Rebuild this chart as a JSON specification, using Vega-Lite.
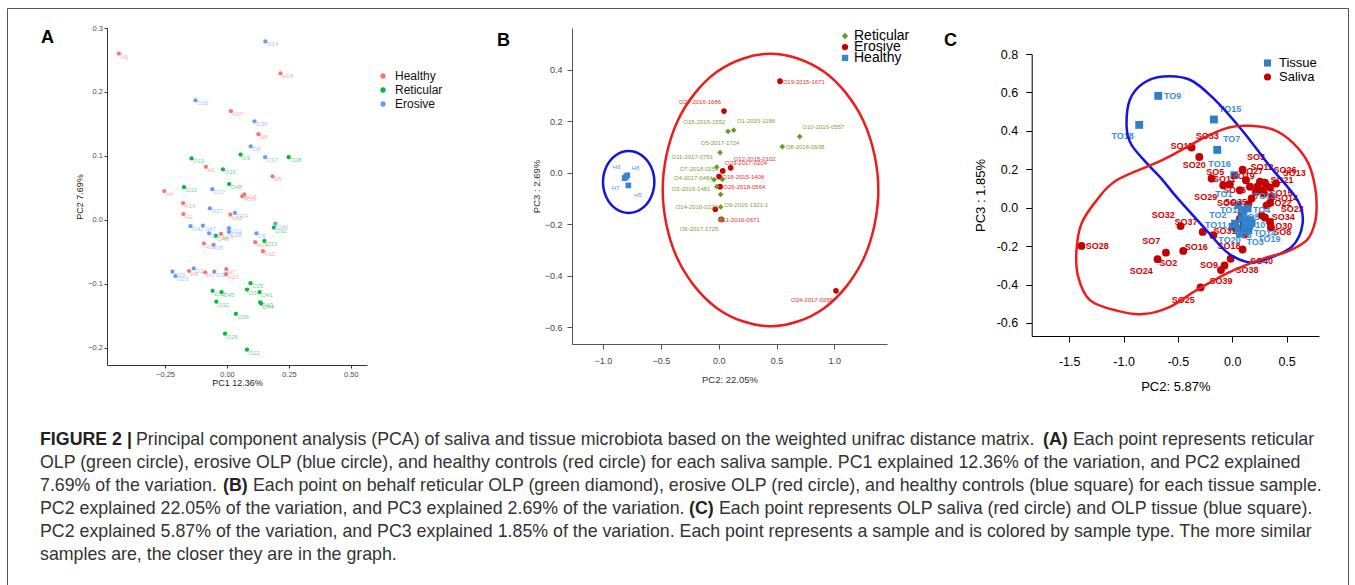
{
  "$schema": "https://vega.github.io/schema/vega-lite/v6.json",
  "width": 1341,
  "height": 577,
  "autosize": {"type": "none"},
  "padding": {"left": 7, "top": 8, "right": 7, "bottom": 0},
  "config": {
    "font": "Liberation Sans",
    "view": {"stroke": "#555555", "strokeWidth": 1},
    "axis": {"grid": false}
  },
  "datasets": {
    "salivaA": [
      {"pc1": -0.436, "pc2": 0.260, "group": "Healthy", "id": "H6"},
      {"pc1": 0.216, "pc2": 0.229, "group": "Healthy", "id": "H18"},
      {"pc1": 0.016, "pc2": 0.170, "group": "Healthy", "id": "H17"},
      {"pc1": 0.127, "pc2": 0.134, "group": "Healthy", "id": "H8"},
      {"pc1": -0.085, "pc2": 0.083, "group": "Healthy", "id": "H1"},
      {"pc1": 0.184, "pc2": 0.068, "group": "Healthy", "id": "H5"},
      {"pc1": -0.253, "pc2": 0.045, "group": "Healthy", "id": "H4"},
      {"pc1": 0.070, "pc2": 0.040, "group": "Healthy", "id": "H15"},
      {"pc1": 0.062, "pc2": 0.037, "group": "Healthy", "id": "H13"},
      {"pc1": -0.177, "pc2": 0.026, "group": "Healthy", "id": "H14"},
      {"pc1": -0.176, "pc2": 0.009, "group": "Healthy", "id": "H2"},
      {"pc1": 0.014, "pc2": 0.008, "group": "Healthy", "id": "H11"},
      {"pc1": -0.024, "pc2": -0.022, "group": "Healthy", "id": "H20"},
      {"pc1": 0.114, "pc2": -0.035, "group": "Healthy", "id": "H19"},
      {"pc1": 0.145, "pc2": -0.049, "group": "Healthy", "id": "H12"},
      {"pc1": -0.093, "pc2": -0.037, "group": "Healthy", "id": "H16"},
      {"pc1": -0.153, "pc2": -0.080, "group": "Healthy", "id": "H9"},
      {"pc1": -0.088, "pc2": -0.082, "group": "Healthy", "id": "H3"},
      {"pc1": -0.003, "pc2": -0.077, "group": "Healthy", "id": "H7"},
      {"pc1": -0.004, "pc2": -0.085, "group": "Healthy", "id": "H10"},
      {"pc1": 0.155, "pc2": 0.279, "group": "Erosive", "id": "O14"},
      {"pc1": -0.127, "pc2": 0.187, "group": "Erosive", "id": "O16"},
      {"pc1": 0.111, "pc2": 0.154, "group": "Erosive", "id": "O35"},
      {"pc1": 0.096, "pc2": 0.115, "group": "Erosive", "id": "O9"},
      {"pc1": 0.154, "pc2": 0.098, "group": "Erosive", "id": "O37"},
      {"pc1": -0.059, "pc2": 0.048, "group": "Erosive", "id": "O17"},
      {"pc1": -0.069, "pc2": 0.018, "group": "Erosive", "id": "O27"},
      {"pc1": 0.032, "pc2": 0.011, "group": "Erosive", "id": "O24"},
      {"pc1": -0.147, "pc2": -0.010, "group": "Erosive", "id": "O42"},
      {"pc1": -0.097, "pc2": -0.009, "group": "Erosive", "id": "O47"},
      {"pc1": -0.072, "pc2": -0.021, "group": "Erosive", "id": "O4"},
      {"pc1": 0.008, "pc2": -0.013, "group": "Erosive", "id": "O12"},
      {"pc1": 0.008, "pc2": -0.019, "group": "Erosive", "id": "O38"},
      {"pc1": 0.195, "pc2": -0.006, "group": "Erosive", "id": "O40"},
      {"pc1": 0.119, "pc2": -0.021, "group": "Erosive", "id": "O6"},
      {"pc1": -0.054, "pc2": -0.039, "group": "Erosive", "id": "O8"},
      {"pc1": -0.220, "pc2": -0.081, "group": "Erosive", "id": "O29"},
      {"pc1": -0.208, "pc2": -0.088, "group": "Erosive", "id": "O23"},
      {"pc1": -0.134, "pc2": -0.076, "group": "Erosive", "id": "O2"},
      {"pc1": -0.051, "pc2": -0.081, "group": "Erosive", "id": "O39"},
      {"pc1": 0.055, "pc2": 0.102, "group": "Reticular", "id": "O3"},
      {"pc1": 0.249, "pc2": 0.098, "group": "Reticular", "id": "O28"},
      {"pc1": -0.143, "pc2": 0.096, "group": "Reticular", "id": "O19"},
      {"pc1": -0.016, "pc2": 0.079, "group": "Reticular", "id": "O10"},
      {"pc1": 0.009, "pc2": 0.056, "group": "Reticular", "id": "O48"},
      {"pc1": -0.173, "pc2": 0.051, "group": "Reticular", "id": "O13"},
      {"pc1": -0.045, "pc2": -0.025, "group": "Reticular", "id": "O46"},
      {"pc1": 0.189, "pc2": -0.012, "group": "Reticular", "id": "O31"},
      {"pc1": 0.151, "pc2": -0.033, "group": "Reticular", "id": "O33"},
      {"pc1": 0.095, "pc2": -0.099, "group": "Reticular", "id": "O25"},
      {"pc1": 0.081, "pc2": -0.109, "group": "Reticular", "id": "O34"},
      {"pc1": 0.132, "pc2": -0.113, "group": "Reticular", "id": "O41"},
      {"pc1": -0.058, "pc2": -0.111, "group": "Reticular", "id": "O30"},
      {"pc1": -0.022, "pc2": -0.113, "group": "Reticular", "id": "O45"},
      {"pc1": -0.043, "pc2": -0.128, "group": "Reticular", "id": "O32"},
      {"pc1": 0.134, "pc2": -0.129, "group": "Reticular", "id": "O43"},
      {"pc1": 0.138, "pc2": -0.131, "group": "Reticular", "id": "O44"},
      {"pc1": 0.036, "pc2": -0.147, "group": "Reticular", "id": "O36"},
      {"pc1": -0.008, "pc2": -0.178, "group": "Reticular", "id": "O26"},
      {"pc1": 0.081, "pc2": -0.203, "group": "Reticular", "id": "O22"}
    ],
    "tissueB": [
      {"pc2": 0.530, "pc3": 0.355, "group": "Erosive"},
      {"pc2": 0.046, "pc3": 0.239, "group": "Erosive"},
      {"pc2": 0.104, "pc3": 0.019, "group": "Erosive"},
      {"pc2": 0.035, "pc3": 0.007, "group": "Erosive"},
      {"pc2": 0.003, "pc3": -0.015, "group": "Erosive"},
      {"pc2": 0.012, "pc3": -0.054, "group": "Erosive"},
      {"pc2": -0.029, "pc3": -0.142, "group": "Erosive"},
      {"pc2": 0.022, "pc3": -0.181, "group": "Erosive"},
      {"pc2": 1.014, "pc3": -0.458, "group": "Erosive"},
      {"pc2": 0.081, "pc3": 0.160, "group": "Reticular"},
      {"pc2": 0.130, "pc3": 0.165, "group": "Reticular"},
      {"pc2": 0.700, "pc3": 0.140, "group": "Reticular"},
      {"pc2": 0.550, "pc3": 0.101, "group": "Reticular"},
      {"pc2": 0.012, "pc3": 0.078, "group": "Reticular"},
      {"pc2": -0.017, "pc3": 0.022, "group": "Reticular"},
      {"pc2": -0.040, "pc3": -0.027, "group": "Reticular"},
      {"pc2": 0.032, "pc3": -0.026, "group": "Reticular"},
      {"pc2": -0.017, "pc3": -0.054, "group": "Reticular"},
      {"pc2": 0.017, "pc3": -0.084, "group": "Reticular"},
      {"pc2": 0.017, "pc3": -0.133, "group": "Reticular"},
      {"pc2": 0.020, "pc3": -0.181, "group": "Reticular"},
      {"pc2": -0.801, "pc3": -0.016, "group": "Healthy"},
      {"pc2": -0.790, "pc3": -0.010, "group": "Healthy"},
      {"pc2": -0.813, "pc3": -0.021, "group": "Healthy"},
      {"pc2": -0.781, "pc3": -0.049, "group": "Healthy"}
    ],
    "legendB": [
      {"pc2": 1.092, "pc3": 0.530, "group": "Reticular"},
      {"pc2": 1.092, "pc3": 0.487, "group": "Erosive"},
      {"pc2": 1.092, "pc3": 0.445, "group": "Healthy"}
    ],
    "labelsB": [
      {"pc2": 0.735, "pc3": 0.353, "group": "Erosive", "id": "O19-2015-1671"},
      {"pc2": -0.161, "pc3": 0.274, "group": "Erosive", "id": "O27-2016-1686"},
      {"pc2": 0.311, "pc3": 0.054, "group": "Erosive", "id": "O12-2015-0102"},
      {"pc2": 0.236, "pc3": 0.039, "group": "Erosive", "id": "O23-2017-0204"},
      {"pc2": 0.213, "pc3": -0.018, "group": "Erosive", "id": "O18-2015-1406"},
      {"pc2": 0.222, "pc3": -0.054, "group": "Erosive", "id": "O26-2018-0564"},
      {"pc2": 0.173, "pc3": -0.182, "group": "Erosive", "id": "O31-2016-0671"},
      {"pc2": 0.807, "pc3": -0.495, "group": "Erosive", "id": "O24-2017-0256"},
      {"pc2": -0.124, "pc3": 0.195, "group": "Reticular", "id": "O15-2015-1552"},
      {"pc2": 0.323, "pc3": 0.202, "group": "Reticular", "id": "O1-2015-1186"},
      {"pc2": 0.905, "pc3": 0.176, "group": "Reticular", "id": "O10-2016-0557"},
      {"pc2": 0.746, "pc3": 0.100, "group": "Reticular", "id": "O8-2016-0938"},
      {"pc2": 0.012, "pc3": 0.115, "group": "Reticular", "id": "O5-2017-1724"},
      {"pc2": -0.228, "pc3": 0.061, "group": "Reticular", "id": "O11-2017-0751"},
      {"pc2": -0.170, "pc3": 0.013, "group": "Reticular", "id": "O7-2018-0259"},
      {"pc2": -0.219, "pc3": -0.022, "group": "Reticular", "id": "O4-2017-0484"},
      {"pc2": -0.239, "pc3": -0.065, "group": "Reticular", "id": "O3-2016-1481"},
      {"pc2": 0.239, "pc3": -0.126, "group": "Reticular", "id": "O9-2015-1321-1"},
      {"pc2": -0.190, "pc3": -0.133, "group": "Reticular", "id": "O14-2016-0227"},
      {"pc2": -0.170, "pc3": -0.219, "group": "Reticular", "id": "O6-2017-1725"},
      {"pc2": -0.882, "pc3": 0.023, "group": "Healthy", "id": "H6"},
      {"pc2": -0.720, "pc3": 0.017, "group": "Healthy", "id": "H8"},
      {"pc2": -0.893, "pc3": -0.058, "group": "Healthy", "id": "H7"},
      {"pc2": -0.697, "pc3": -0.088, "group": "Healthy", "id": "H5"}
    ],
    "ringsB": [
      {"ring": "Healthy", "i": 1, "pc2": -0.556, "pc3": -0.036},
      {"ring": "Healthy", "i": 2, "pc2": -0.586, "pc3": 0.024},
      {"ring": "Healthy", "i": 3, "pc2": -0.667, "pc3": 0.068},
      {"ring": "Healthy", "i": 4, "pc2": -0.778, "pc3": 0.084},
      {"ring": "Healthy", "i": 5, "pc2": -0.889, "pc3": 0.068},
      {"ring": "Healthy", "i": 6, "pc2": -0.970, "pc3": 0.024},
      {"ring": "Healthy", "i": 7, "pc2": -1.000, "pc3": -0.036},
      {"ring": "Healthy", "i": 8, "pc2": -0.970, "pc3": -0.096},
      {"ring": "Healthy", "i": 9, "pc2": -0.889, "pc3": -0.140},
      {"ring": "Healthy", "i": 10, "pc2": -0.778, "pc3": -0.156},
      {"ring": "Healthy", "i": 11, "pc2": -0.667, "pc3": -0.140},
      {"ring": "Healthy", "i": 12, "pc2": -0.586, "pc3": -0.096},
      {"ring": "Erosive", "i": 1, "pc2": 1.380, "pc3": -0.067},
      {"ring": "Erosive", "i": 2, "pc2": 1.255, "pc3": 0.197},
      {"ring": "Erosive", "i": 3, "pc2": 0.914, "pc3": 0.390},
      {"ring": "Erosive", "i": 4, "pc2": 0.448, "pc3": 0.461},
      {"ring": "Erosive", "i": 5, "pc2": -0.018, "pc3": 0.390},
      {"ring": "Erosive", "i": 6, "pc2": -0.359, "pc3": 0.197},
      {"ring": "Erosive", "i": 7, "pc2": -0.484, "pc3": -0.067},
      {"ring": "Erosive", "i": 8, "pc2": -0.359, "pc3": -0.331},
      {"ring": "Erosive", "i": 9, "pc2": -0.018, "pc3": -0.524},
      {"ring": "Erosive", "i": 10, "pc2": 0.448, "pc3": -0.595},
      {"ring": "Erosive", "i": 11, "pc2": 0.914, "pc3": -0.524},
      {"ring": "Erosive", "i": 12, "pc2": 1.255, "pc3": -0.331}
    ],
    "olpC": [
      {"pc2": -0.374, "pc3": 0.313, "type": "Saliva"},
      {"pc2": -0.303, "pc3": 0.264, "type": "Saliva"},
      {"pc2": 0.095, "pc3": 0.198, "type": "Saliva"},
      {"pc2": -0.190, "pc3": 0.152, "type": "Saliva"},
      {"pc2": 0.126, "pc3": 0.143, "type": "Saliva"},
      {"pc2": -0.083, "pc3": 0.117, "type": "Saliva"},
      {"pc2": -0.022, "pc3": 0.122, "type": "Saliva"},
      {"pc2": 0.070, "pc3": 0.091, "type": "Saliva"},
      {"pc2": 0.163, "pc3": 0.109, "type": "Saliva"},
      {"pc2": 0.255, "pc3": 0.135, "type": "Saliva"},
      {"pc2": 0.300, "pc3": 0.130, "type": "Saliva"},
      {"pc2": 0.230, "pc3": 0.109, "type": "Saliva"},
      {"pc2": 0.270, "pc3": 0.091, "type": "Saliva"},
      {"pc2": 0.316, "pc3": 0.112, "type": "Saliva"},
      {"pc2": 0.347, "pc3": 0.105, "type": "Saliva"},
      {"pc2": 0.402, "pc3": 0.126, "type": "Saliva"},
      {"pc2": 0.218, "pc3": 0.082, "type": "Saliva"},
      {"pc2": 0.292, "pc3": 0.074, "type": "Saliva"},
      {"pc2": 0.362, "pc3": 0.056, "type": "Saliva"},
      {"pc2": 0.347, "pc3": 0.025, "type": "Saliva"},
      {"pc2": 0.316, "pc3": 0.012, "type": "Saliva"},
      {"pc2": 0.178, "pc3": 0.048, "type": "Saliva"},
      {"pc2": 0.148, "pc3": 0.018, "type": "Saliva"},
      {"pc2": 0.270, "pc3": -0.040, "type": "Saliva"},
      {"pc2": 0.300, "pc3": -0.051, "type": "Saliva"},
      {"pc2": 0.347, "pc3": -0.074, "type": "Saliva"},
      {"pc2": 0.355, "pc3": -0.103, "type": "Saliva"},
      {"pc2": 0.086, "pc3": -0.022, "type": "Saliva"},
      {"pc2": 0.070, "pc3": -0.057, "type": "Saliva"},
      {"pc2": 0.107, "pc3": -0.083, "type": "Saliva"},
      {"pc2": 0.077, "pc3": -0.109, "type": "Saliva"},
      {"pc2": 0.115, "pc3": -0.140, "type": "Saliva"},
      {"pc2": 0.095, "pc3": -0.218, "type": "Saliva"},
      {"pc2": -0.174, "pc3": -0.143, "type": "Saliva"},
      {"pc2": -0.272, "pc3": -0.126, "type": "Saliva"},
      {"pc2": -0.475, "pc3": -0.096, "type": "Saliva"},
      {"pc2": -1.387, "pc3": -0.199, "type": "Saliva"},
      {"pc2": -0.687, "pc3": -0.268, "type": "Saliva"},
      {"pc2": -0.610, "pc3": -0.234, "type": "Saliva"},
      {"pc2": -0.451, "pc3": -0.225, "type": "Saliva"},
      {"pc2": -0.104, "pc3": -0.325, "type": "Saliva"},
      {"pc2": -0.071, "pc3": -0.301, "type": "Saliva"},
      {"pc2": -0.015, "pc3": -0.266, "type": "Saliva"},
      {"pc2": -0.291, "pc3": -0.415, "type": "Saliva"},
      {"pc2": -0.681, "pc3": 0.582, "type": "Tissue"},
      {"pc2": -0.856, "pc3": 0.431, "type": "Tissue"},
      {"pc2": -0.169, "pc3": 0.459, "type": "Tissue"},
      {"pc2": -0.138, "pc3": 0.301, "type": "Tissue"},
      {"pc2": 0.019, "pc3": 0.169, "type": "Tissue"},
      {"pc2": 0.056, "pc3": 0.013, "type": "Tissue"},
      {"pc2": 0.141, "pc3": -0.004, "type": "Tissue"},
      {"pc2": 0.101, "pc3": -0.013, "type": "Tissue"},
      {"pc2": 0.086, "pc3": -0.057, "type": "Tissue"},
      {"pc2": 0.163, "pc3": -0.065, "type": "Tissue"},
      {"pc2": 0.132, "pc3": -0.083, "type": "Tissue"},
      {"pc2": 0.117, "pc3": -0.100, "type": "Tissue"},
      {"pc2": 0.003, "pc3": -0.100, "type": "Tissue"},
      {"pc2": 0.040, "pc3": -0.108, "type": "Tissue"},
      {"pc2": 0.148, "pc3": -0.117, "type": "Tissue"},
      {"pc2": 0.178, "pc3": -0.079, "type": "Tissue"},
      {"pc2": 0.070, "pc3": -0.135, "type": "Tissue"},
      {"pc2": 0.026, "pc3": -0.083, "type": "Tissue"},
      {"pc2": 0.155, "pc3": -0.095, "type": "Tissue"},
      {"pc2": 0.120, "pc3": -0.060, "type": "Tissue"}
    ],
    "labelsC": [
      {"pc2": -0.230, "pc3": 0.371, "type": "Saliva", "id": "SO33"},
      {"pc2": -0.463, "pc3": 0.319, "type": "Saliva", "id": "SO17"},
      {"pc2": 0.218, "pc3": 0.263, "type": "Saliva", "id": "SO3"},
      {"pc2": -0.350, "pc3": 0.220, "type": "Saliva", "id": "SO20"},
      {"pc2": 0.273, "pc3": 0.211, "type": "Saliva", "id": "SO12"},
      {"pc2": 0.485, "pc3": 0.198, "type": "Saliva", "id": "SO26"},
      {"pc2": 0.571, "pc3": 0.180, "type": "Saliva", "id": "SO13"},
      {"pc2": -0.156, "pc3": 0.184, "type": "Saliva", "id": "SO5"},
      {"pc2": 0.180, "pc3": 0.189, "type": "Saliva", "id": "SO27"},
      {"pc2": 0.100, "pc3": 0.166, "type": "Saliva", "id": "SO19"},
      {"pc2": -0.074, "pc3": 0.149, "type": "Saliva", "id": "SO11"},
      {"pc2": 0.457, "pc3": 0.146, "type": "Saliva", "id": "SO21"},
      {"pc2": -0.245, "pc3": 0.055, "type": "Saliva", "id": "SO29"},
      {"pc2": 0.448, "pc3": 0.076, "type": "Saliva", "id": "SO15"},
      {"pc2": 0.500, "pc3": 0.050, "type": "Saliva", "id": "SO14"},
      {"pc2": -0.057, "pc3": 0.023, "type": "Saliva", "id": "SO6"},
      {"pc2": 0.020, "pc3": 0.090, "type": "Saliva", "id": "SO36"},
      {"pc2": 0.030, "pc3": 0.030, "type": "Saliva", "id": "SO35"},
      {"pc2": 0.440, "pc3": 0.024, "type": "Saliva", "id": "SO22"},
      {"pc2": 0.552, "pc3": -0.009, "type": "Saliva", "id": "SO23"},
      {"pc2": 0.469, "pc3": -0.048, "type": "Saliva", "id": "SO34"},
      {"pc2": -0.635, "pc3": -0.040, "type": "Saliva", "id": "SO32"},
      {"pc2": -0.426, "pc3": -0.074, "type": "Saliva", "id": "SO37"},
      {"pc2": 0.445, "pc3": -0.095, "type": "Saliva", "id": "SO30"},
      {"pc2": 0.460, "pc3": -0.126, "type": "Saliva", "id": "SO8"},
      {"pc2": -0.067, "pc3": -0.123, "type": "Saliva", "id": "SO31"},
      {"pc2": -0.745, "pc3": -0.173, "type": "Saliva", "id": "SO7"},
      {"pc2": -1.242, "pc3": -0.199, "type": "Saliva", "id": "SO28"},
      {"pc2": -0.331, "pc3": -0.204, "type": "Saliva", "id": "SO16"},
      {"pc2": -0.031, "pc3": -0.199, "type": "Saliva", "id": "SO18"},
      {"pc2": -0.589, "pc3": -0.287, "type": "Saliva", "id": "SO2"},
      {"pc2": -0.215, "pc3": -0.299, "type": "Saliva", "id": "SO9"},
      {"pc2": 0.270, "pc3": -0.277, "type": "Saliva", "id": "SO40"},
      {"pc2": 0.135, "pc3": -0.325, "type": "Saliva", "id": "SO38"},
      {"pc2": -0.837, "pc3": -0.330, "type": "Saliva", "id": "SO24"},
      {"pc2": -0.104, "pc3": -0.382, "type": "Saliva", "id": "SO39"},
      {"pc2": -0.451, "pc3": -0.478, "type": "Saliva", "id": "SO25"},
      {"pc2": -0.549, "pc3": 0.582, "type": "Tissue", "id": "TO9"},
      {"pc2": -0.021, "pc3": 0.516, "type": "Tissue", "id": "TO15"},
      {"pc2": -1.009, "pc3": 0.371, "type": "Tissue", "id": "TO18"},
      {"pc2": -0.006, "pc3": 0.359, "type": "Tissue", "id": "TO7"},
      {"pc2": -0.117, "pc3": 0.229, "type": "Tissue", "id": "TO16"},
      {"pc2": -0.077, "pc3": 0.073, "type": "Tissue", "id": "TO1"},
      {"pc2": 0.300, "pc3": 0.059, "type": "Tissue", "id": "TO13"},
      {"pc2": -0.010, "pc3": -0.014, "type": "Tissue", "id": "TO12"},
      {"pc2": 0.270, "pc3": -0.014, "type": "Tissue", "id": "TO4"},
      {"pc2": -0.132, "pc3": -0.040, "type": "Tissue", "id": "TO2"},
      {"pc2": -0.150, "pc3": -0.088, "type": "Tissue", "id": "TO11"},
      {"pc2": 0.300, "pc3": -0.131, "type": "Tissue", "id": "TO14"},
      {"pc2": -0.025, "pc3": -0.166, "type": "Tissue", "id": "TO20"},
      {"pc2": 0.340, "pc3": -0.161, "type": "Tissue", "id": "TO19"},
      {"pc2": 0.210, "pc3": -0.178, "type": "Tissue", "id": "TO3"},
      {"pc2": 0.100, "pc3": -0.140, "type": "Tissue", "id": "TO6"},
      {"pc2": 0.200, "pc3": -0.090, "type": "Tissue", "id": "TO10"},
      {"pc2": 0.170, "pc3": -0.050, "type": "Tissue", "id": "TO5"}
    ],
    "hullsC": [
      {"type": "Tissue", "i": 1, "pc2": -0.972, "pc3": 0.423},
      {"type": "Tissue", "i": 2, "pc2": -0.942, "pc3": 0.562},
      {"type": "Tissue", "i": 3, "pc2": -0.819, "pc3": 0.648},
      {"type": "Tissue", "i": 4, "pc2": -0.635, "pc3": 0.683},
      {"type": "Tissue", "i": 5, "pc2": -0.390, "pc3": 0.666},
      {"type": "Tissue", "i": 6, "pc2": -0.175, "pc3": 0.570},
      {"type": "Tissue", "i": 7, "pc2": 0.086, "pc3": 0.406},
      {"type": "Tissue", "i": 8, "pc2": 0.347, "pc3": 0.215},
      {"type": "Tissue", "i": 9, "pc2": 0.600, "pc3": 0.040},
      {"type": "Tissue", "i": 10, "pc2": 0.647, "pc3": -0.083},
      {"type": "Tissue", "i": 11, "pc2": 0.546, "pc3": -0.204},
      {"type": "Tissue", "i": 12, "pc2": 0.285, "pc3": -0.273},
      {"type": "Tissue", "i": 13, "pc2": 0.132, "pc3": -0.282},
      {"type": "Tissue", "i": 14, "pc2": -0.052, "pc3": -0.230},
      {"type": "Tissue", "i": 15, "pc2": -0.236, "pc3": -0.118},
      {"type": "Tissue", "i": 16, "pc2": -0.512, "pc3": 0.055},
      {"type": "Tissue", "i": 17, "pc2": -0.650, "pc3": 0.150},
      {"type": "Tissue", "i": 18, "pc2": -0.800, "pc3": 0.240},
      {"type": "Tissue", "i": 19, "pc2": -0.930, "pc3": 0.330},
      {"type": "Saliva", "i": 1, "pc2": -0.021, "pc3": 0.419},
      {"type": "Saliva", "i": 2, "pc2": 0.163, "pc3": 0.426},
      {"type": "Saliva", "i": 3, "pc2": 0.377, "pc3": 0.406},
      {"type": "Saliva", "i": 4, "pc2": 0.561, "pc3": 0.336},
      {"type": "Saliva", "i": 5, "pc2": 0.699, "pc3": 0.232},
      {"type": "Saliva", "i": 6, "pc2": 0.761, "pc3": 0.111},
      {"type": "Saliva", "i": 7, "pc2": 0.776, "pc3": 0.000},
      {"type": "Saliva", "i": 8, "pc2": 0.755, "pc3": -0.090},
      {"type": "Saliva", "i": 9, "pc2": 0.684, "pc3": -0.170},
      {"type": "Saliva", "i": 10, "pc2": 0.500, "pc3": -0.230},
      {"type": "Saliva", "i": 11, "pc2": 0.285, "pc3": -0.265},
      {"type": "Saliva", "i": 12, "pc2": -0.021, "pc3": -0.334},
      {"type": "Saliva", "i": 13, "pc2": -0.328, "pc3": -0.429},
      {"type": "Saliva", "i": 14, "pc2": -0.574, "pc3": -0.516},
      {"type": "Saliva", "i": 15, "pc2": -0.819, "pc3": -0.554},
      {"type": "Saliva", "i": 16, "pc2": -1.064, "pc3": -0.536},
      {"type": "Saliva", "i": 17, "pc2": -1.310, "pc3": -0.481},
      {"type": "Saliva", "i": 18, "pc2": -1.417, "pc3": -0.360},
      {"type": "Saliva", "i": 19, "pc2": -1.433, "pc3": -0.221},
      {"type": "Saliva", "i": 20, "pc2": -1.387, "pc3": -0.083},
      {"type": "Saliva", "i": 21, "pc2": -1.248, "pc3": 0.038},
      {"type": "Saliva", "i": 22, "pc2": -1.064, "pc3": 0.143},
      {"type": "Saliva", "i": 23, "pc2": -0.635, "pc3": 0.250},
      {"type": "Saliva", "i": 24, "pc2": -0.236, "pc3": 0.371}
    ],
    "caption": [
      {"line": 1, "pos": 0, "text": "FIGURE 2 |", "bold": true},
      {"line": 1, "pos": 96, "text": "Principal component analysis (PCA) of saliva and tissue microbiota based on the weighted unifrac distance matrix.", "bold": false},
      {"line": 1, "pos": 1003, "text": "(A)", "bold": true},
      {"line": 1, "pos": 1033, "text": "Each point represents reticular", "bold": false},
      {"line": 2, "pos": 0, "text": "OLP (green circle), erosive OLP (blue circle), and healthy controls (red circle) for each saliva sample. PC1 explained 12.36% of the variation, and PC2 explained", "bold": false},
      {"line": 3, "pos": 0, "text": "7.69% of the variation.", "bold": false},
      {"line": 3, "pos": 183, "text": "(B)", "bold": true},
      {"line": 3, "pos": 213, "text": "Each point on behalf reticular OLP (green diamond), erosive OLP (red circle), and healthy controls (blue square) for each tissue sample.", "bold": false},
      {"line": 4, "pos": 0, "text": "PC2 explained 22.05% of the variation, and PC3 explained 2.69% of the variation.", "bold": false},
      {"line": 4, "pos": 649, "text": "(C)", "bold": true},
      {"line": 4, "pos": 679, "text": "Each point represents OLP saliva (red circle) and OLP tissue (blue square).", "bold": false},
      {"line": 5, "pos": 0, "text": "PC2 explained 5.87% of the variation, and PC3 explained 1.85% of the variation. Each point represents a sample and is colored by sample type. The more similar", "bold": false},
      {"line": 6, "pos": 0, "text": "samples are, the closer they are in the graph.", "bold": false}
    ]
  },
  "layer": [
    {
      "data": {"name": "salivaA"},
      "mark": {"type": "circle", "size": 18, "opacity": 1},
      "encoding": {
        "x": {
          "field": "pc1", "type": "quantitative",
          "scale": {"domain": [-0.484, 0.565], "range": [100, 360], "nice": false, "zero": false},
          "axis": {
            "orient": "bottom", "offset": -220, "values": [-0.25, 0, 0.25, 0.5], "format": ".2f",
            "title": "PC1 12.36%", "titleFontSize": 9, "titleFontWeight": "normal", "titleColor": "#1a1a1a", "titlePadding": 1,
            "labelFontSize": 7.5, "labelColor": "#4d4d4d", "labelPadding": 2,
            "tickSize": 3, "tickColor": "#333333", "domainColor": "#333333"
          }
        },
        "y": {
          "field": "pc2", "type": "quantitative",
          "scale": {"domain": [-0.227, 0.3], "range": [357, 20], "nice": false, "zero": false},
          "axis": {
            "orient": "left", "offset": -100, "values": [-0.2, -0.1, 0, 0.1, 0.2, 0.3], "format": ".1f",
            "title": "PC2 7.69%", "titleFontSize": 9, "titleFontWeight": "normal", "titleColor": "#1a1a1a", "titlePadding": 3,
            "labelFontSize": 7.5, "labelColor": "#4d4d4d", "labelPadding": 1.5,
            "tickSize": 3, "tickColor": "#333333", "domainColor": "#333333"
          }
        },
        "color": {
          "field": "group", "type": "nominal",
          "scale": {"domain": ["Healthy", "Reticular", "Erosive"], "range": ["#F8766D", "#00BA38", "#619CFF"]},
          "legend": {
            "orient": "none", "legendX": 370, "legendY": 62, "title": null, "padding": 0,
            "labelFontSize": 12, "labelColor": "#111111", "symbolSize": 28, "rowPadding": 2, "labelOffset": 6
          }
        }
      }
    },
    {
      "data": {"name": "salivaA"},
      "mark": {"type": "text", "fontSize": 6, "align": "left", "baseline": "middle", "dx": 1.5, "dy": 3, "opacity": 0.6},
      "encoding": {
        "x": {"field": "pc1", "type": "quantitative", "scale": {"domain": [-0.484, 0.565], "range": [100, 360], "nice": false, "zero": false}, "axis": null},
        "y": {"field": "pc2", "type": "quantitative", "scale": {"domain": [-0.227, 0.3], "range": [357, 20], "nice": false, "zero": false}, "axis": null},
        "text": {"field": "id"},
        "color": {"field": "group", "type": "nominal", "scale": {"domain": ["Healthy", "Reticular", "Erosive"], "range": ["#F8766D", "#00BA38", "#619CFF"]}, "legend": null}
      }
    },
    {
      "data": {"values": [{"pc1": -0.75, "pc2": 0.277, "t": "A"}]},
      "mark": {"type": "text", "fontSize": 18, "fontWeight": "bold", "align": "left", "baseline": "alphabetic", "color": "#000000"},
      "encoding": {
        "x": {"field": "pc1", "type": "quantitative", "scale": {"domain": [-0.484, 0.565], "range": [100, 360], "nice": false, "zero": false}, "axis": null},
        "y": {"field": "pc2", "type": "quantitative", "scale": {"domain": [-0.227, 0.3], "range": [357, 20], "nice": false, "zero": false}, "axis": null},
        "text": {"field": "t"}
      }
    },
    {
      "data": {"name": "tissueB"},
      "mark": {"type": "point", "filled": true, "opacity": 1, "size": 32},
      "encoding": {
        "x": {
          "field": "pc2", "type": "quantitative",
          "scale": {"domain": [-1.268, 1.455], "range": [565, 880], "nice": false, "zero": false},
          "axis": {
            "orient": "bottom", "offset": -241, "values": [-1, -0.5, 0, 0.5, 1], "format": ".1f",
            "title": "PC2: 22.05%", "titleFontSize": 9.5, "titleFontWeight": "normal", "titleColor": "#333333", "titlePadding": 9,
            "labelFontSize": 9, "labelColor": "#444444", "labelPadding": 7,
            "tickSize": 5, "tickColor": "#555555", "domainColor": "#555555"
          }
        },
        "y": {
          "field": "pc3", "type": "quantitative",
          "scale": {"domain": [-0.664, 0.561], "range": [336, 20], "nice": false, "zero": false},
          "axis": {
            "orient": "left", "offset": -565, "values": [-0.6, -0.4, -0.2, 0, 0.2, 0.4], "format": ".1f",
            "title": "PC3 : 2.69%", "titleFontSize": 9.5, "titleFontWeight": "normal", "titleColor": "#333333", "titlePadding": 3,
            "labelFontSize": 9, "labelColor": "#444444", "labelPadding": 5,
            "tickSize": 5, "tickColor": "#555555", "domainColor": "#555555"
          }
        },
        "color": {
          "field": "group", "type": "nominal",
          "scale": {"domain": ["Reticular", "Erosive", "Healthy"], "range": ["#6A9A24", "#C80000", "#3486D4"]},
          "legend": null
        },
        "shape": {
          "field": "group", "type": "nominal",
          "scale": {"domain": ["Reticular", "Erosive", "Healthy"], "range": ["diamond", "circle", "square"]},
          "legend": null
        }
      }
    },
    {
      "data": {"name": "legendB"},
      "mark": {"type": "point", "filled": true, "opacity": 1, "size": 40},
      "encoding": {
        "x": {"field": "pc2", "type": "quantitative", "scale": {"domain": [-1.268, 1.455], "range": [565, 880], "nice": false, "zero": false}, "axis": null},
        "y": {"field": "pc3", "type": "quantitative", "scale": {"domain": [-0.664, 0.561], "range": [336, 20], "nice": false, "zero": false}, "axis": null},
        "color": {"field": "group", "type": "nominal", "scale": {"domain": ["Reticular", "Erosive", "Healthy"], "range": ["#6A9A24", "#C80000", "#3486D4"]}, "legend": null},
        "shape": {"field": "group", "type": "nominal", "scale": {"domain": ["Reticular", "Erosive", "Healthy"], "range": ["diamond", "circle", "square"]}, "legend": null}
      }
    },
    {
      "data": {"name": "legendB"},
      "mark": {"type": "text", "fontSize": 14, "align": "left", "baseline": "middle", "dx": 9, "color": "#000000"},
      "encoding": {
        "x": {"field": "pc2", "type": "quantitative", "scale": {"domain": [-1.268, 1.455], "range": [565, 880], "nice": false, "zero": false}, "axis": null},
        "y": {"field": "pc3", "type": "quantitative", "scale": {"domain": [-0.664, 0.561], "range": [336, 20], "nice": false, "zero": false}, "axis": null},
        "text": {"field": "group"}
      }
    },
    {
      "data": {"name": "labelsB"},
      "mark": {"type": "text", "fontSize": 6, "align": "center", "baseline": "middle"},
      "encoding": {
        "x": {"field": "pc2", "type": "quantitative", "scale": {"domain": [-1.268, 1.455], "range": [565, 880], "nice": false, "zero": false}, "axis": null},
        "y": {"field": "pc3", "type": "quantitative", "scale": {"domain": [-0.664, 0.561], "range": [336, 20], "nice": false, "zero": false}, "axis": null},
        "text": {"field": "id"},
        "color": {"field": "group", "type": "nominal", "scale": {"domain": ["Reticular", "Erosive", "Healthy"], "range": ["#7DA33A", "#E0332E", "#4B97DC"]}, "legend": null}
      }
    },
    {
      "data": {"name": "ringsB"},
      "mark": {"type": "line", "interpolate": "cardinal-closed", "strokeWidth": 2.5},
      "encoding": {
        "x": {"field": "pc2", "type": "quantitative", "scale": {"domain": [-1.268, 1.455], "range": [565, 880], "nice": false, "zero": false}, "axis": null},
        "y": {"field": "pc3", "type": "quantitative", "scale": {"domain": [-0.664, 0.561], "range": [336, 20], "nice": false, "zero": false}, "axis": null},
        "order": {"field": "i", "type": "quantitative"},
        "color": {"field": "ring", "type": "nominal", "scale": {"domain": ["Healthy", "Erosive"], "range": ["#1414E0", "#EE1C1C"]}, "legend": null}
      }
    },
    {
      "data": {"values": [{"pc2": -1.916, "pc3": 0.49, "t": "B"}]},
      "mark": {"type": "text", "fontSize": 18, "fontWeight": "bold", "align": "left", "baseline": "alphabetic", "color": "#000000"},
      "encoding": {
        "x": {"field": "pc2", "type": "quantitative", "scale": {"domain": [-1.268, 1.455], "range": [565, 880], "nice": false, "zero": false}, "axis": null},
        "y": {"field": "pc3", "type": "quantitative", "scale": {"domain": [-0.664, 0.561], "range": [336, 20], "nice": false, "zero": false}, "axis": null},
        "text": {"field": "t"}
      }
    },
    {
      "data": {"name": "olpC"},
      "mark": {"type": "point", "filled": true, "opacity": 1, "size": 62},
      "encoding": {
        "x": {
          "field": "pc2", "type": "quantitative",
          "scale": {"domain": [-1.845, 0.798], "range": [1024.7, 1312], "nice": false, "zero": false},
          "axis": {
            "orient": "bottom", "offset": -249, "values": [-1.5, -1, -0.5, 0, 0.5], "format": ".1f",
            "labelExpr": "replace(datum.label, '−', '-')",
            "title": "PC2: 5.87%", "titleFontSize": 13, "titleFontWeight": "normal", "titleColor": "#000000", "titlePadding": 13,
            "labelFontSize": 12.5, "labelColor": "#000000", "labelPadding": 13,
            "tickSize": 6, "tickColor": "#000000", "domainColor": "#000000"
          }
        },
        "y": {
          "field": "pc3", "type": "quantitative",
          "scale": {"domain": [-0.668, 0.8], "range": [328, 46], "nice": false, "zero": false},
          "axis": {
            "orient": "left", "offset": -1024.7, "values": [-0.6, -0.4, -0.2, 0, 0.2, 0.4, 0.6, 0.8], "format": ".1f",
            "labelExpr": "replace(datum.label, '−', '-')",
            "title": "PC3 : 1.85%", "titleFontSize": 13, "titleFontWeight": "normal", "titleColor": "#000000", "titlePadding": 9,
            "labelFontSize": 12.5, "labelColor": "#000000", "labelPadding": 8,
            "tickSize": 6, "tickColor": "#000000", "domainColor": "#000000"
          }
        },
        "color": {
          "field": "type", "type": "nominal",
          "scale": {"domain": ["Tissue", "Saliva"], "range": ["#2E7FC8", "#C40000"]},
          "legend": {
            "orient": "none", "legendX": 1254, "legendY": 48.5, "title": null, "padding": 0,
            "labelFontSize": 13, "labelColor": "#000000", "symbolSize": 50, "rowPadding": 0, "labelOffset": 5
          }
        },
        "shape": {
          "field": "type", "type": "nominal",
          "scale": {"domain": ["Tissue", "Saliva"], "range": ["square", "circle"]},
          "legend": {
            "orient": "none", "legendX": 1254, "legendY": 48.5, "title": null, "padding": 0,
            "labelFontSize": 13, "labelColor": "#000000", "symbolSize": 50, "rowPadding": 0, "labelOffset": 5
          }
        }
      }
    },
    {
      "data": {"name": "labelsC"},
      "mark": {"type": "text", "fontSize": 9, "fontWeight": "bold", "align": "center", "baseline": "middle"},
      "encoding": {
        "x": {"field": "pc2", "type": "quantitative", "scale": {"domain": [-1.845, 0.798], "range": [1024.7, 1312], "nice": false, "zero": false}, "axis": null},
        "y": {"field": "pc3", "type": "quantitative", "scale": {"domain": [-0.668, 0.8], "range": [328, 46], "nice": false, "zero": false}, "axis": null},
        "text": {"field": "id"},
        "color": {"field": "type", "type": "nominal", "scale": {"domain": ["Tissue", "Saliva"], "range": ["#3A8DD8", "#D00000"]}, "legend": null}
      }
    },
    {
      "data": {"name": "hullsC"},
      "mark": {"type": "line", "interpolate": "cardinal-closed", "strokeWidth": 2.5},
      "encoding": {
        "x": {"field": "pc2", "type": "quantitative", "scale": {"domain": [-1.845, 0.798], "range": [1024.7, 1312], "nice": false, "zero": false}, "axis": null},
        "y": {"field": "pc3", "type": "quantitative", "scale": {"domain": [-0.668, 0.8], "range": [328, 46], "nice": false, "zero": false}, "axis": null},
        "order": {"field": "i", "type": "quantitative"},
        "color": {"field": "type", "type": "nominal", "scale": {"domain": ["Tissue", "Saliva"], "range": ["#1414E6", "#EE1C1C"]}, "legend": null}
      }
    },
    {
      "data": {"values": [{"pc2": -2.652, "pc3": 0.842, "t": "C"}]},
      "mark": {"type": "text", "fontSize": 18, "fontWeight": "bold", "align": "left", "baseline": "alphabetic", "color": "#000000"},
      "encoding": {
        "x": {"field": "pc2", "type": "quantitative", "scale": {"domain": [-1.845, 0.798], "range": [1024.7, 1312], "nice": false, "zero": false}, "axis": null},
        "y": {"field": "pc3", "type": "quantitative", "scale": {"domain": [-0.668, 0.8], "range": [328, 46], "nice": false, "zero": false}, "axis": null},
        "text": {"field": "t"}
      }
    },
    {
      "data": {"name": "caption"},
      "transform": [{"filter": "!datum.bold"}],
      "mark": {"type": "text", "fontSize": 17.8, "align": "left", "baseline": "middle", "color": "#333333"},
      "encoding": {
        "x": {"field": "pos", "type": "quantitative", "scale": {"domain": [0, 1285], "range": [33, 1318], "nice": false, "zero": false}, "axis": null},
        "y": {"field": "line", "type": "quantitative", "scale": {"domain": [1, 6], "range": [432, 547], "nice": false, "zero": false}, "axis": null},
        "text": {"field": "text"}
      }
    },
    {
      "data": {"name": "caption"},
      "transform": [{"filter": "datum.bold"}],
      "mark": {"type": "text", "fontSize": 17.8, "fontWeight": "bold", "align": "left", "baseline": "middle", "color": "#222222"},
      "encoding": {
        "x": {"field": "pos", "type": "quantitative", "scale": {"domain": [0, 1285], "range": [33, 1318], "nice": false, "zero": false}, "axis": null},
        "y": {"field": "line", "type": "quantitative", "scale": {"domain": [1, 6], "range": [432, 547], "nice": false, "zero": false}, "axis": null},
        "text": {"field": "text"}
      }
    }
  ],
  "resolve": {"scale": {"x": "independent", "y": "independent", "color": "independent", "shape": "independent"}}
}
